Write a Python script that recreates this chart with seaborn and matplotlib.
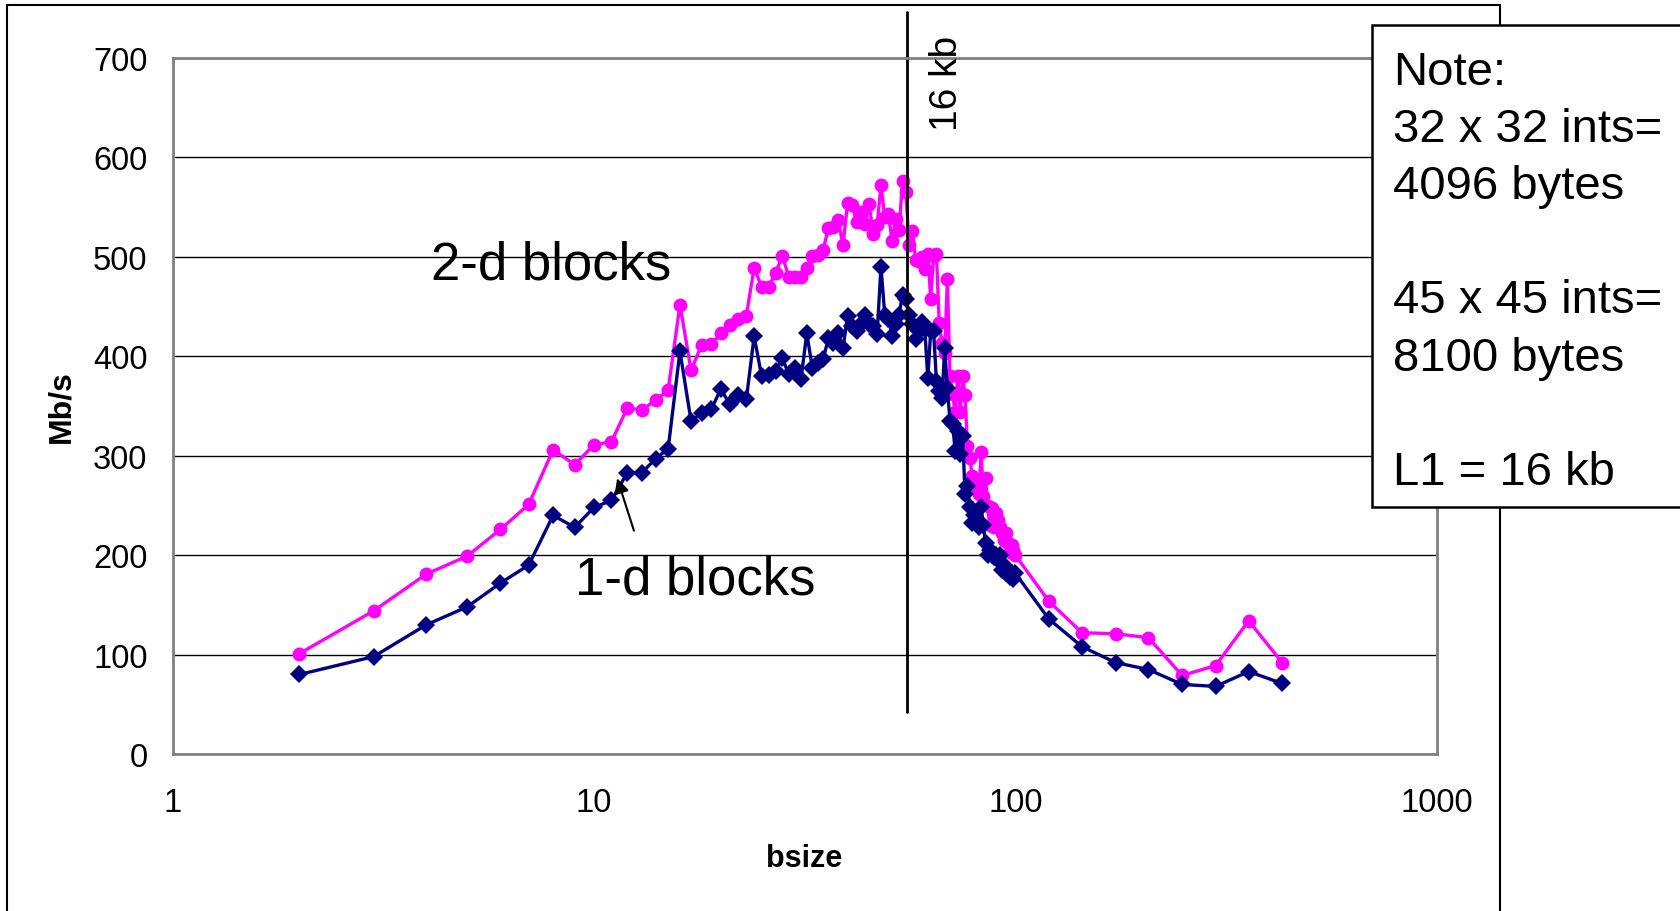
import matplotlib
matplotlib.use('Agg')
import matplotlib.pyplot as plt
from matplotlib.patches import Rectangle
import numpy as np
import pandas as pd
import seaborn as sns

sns.set_style("white")
plt.rcParams['font.family'] = ['Liberation Sans', 'DejaVu Sans']
plt.rcParams['text.color'] = 'black'
plt.rcParams['axes.labelcolor'] = 'black'
plt.rcParams['xtick.color'] = 'black'
plt.rcParams['ytick.color'] = 'black'

# block sizes (ints per side)
bsize = [2, 3, 4, 5, 6, 7, 8, 9, 10, 11,
         12, 13, 14, 15, 16, 17, 18, 19, 20, 21,
         22, 23, 24, 25, 26, 27, 28, 29, 30, 31,
         32, 33, 34, 35, 36, 37, 38, 39, 40, 41,
         42, 43, 44, 45, 46, 47, 48, 49, 50, 51,
         52, 53, 54, 55, 56, 57, 58, 59, 60, 61,
         62, 63, 64, 65, 66, 67, 68, 69, 70, 71,
         72, 73, 74, 75, 76, 77, 78, 79, 80, 81,
         82, 83, 84, 85, 86, 87, 88, 89, 90, 91,
         92, 93, 94, 95, 96, 97, 98, 99, 100,
         120, 144, 173, 207, 249, 299, 358, 430]

# 2-d blocks, Mb/s
mbs_2d = [101, 144, 181, 199, 226, 251, 306, 291, 311, 314,
          348, 346, 356, 366, 452, 386, 411, 412, 423, 431,
          438, 441, 489, 470, 470, 484, 501, 480, 480, 480,
          489, 501, 502, 507, 529, 530, 537, 512, 554, 552,
          535, 545, 533, 553, 523, 532, 572, 540, 543, 516,
          538, 527, 576, 565, 512, 526, 497, 496, 500, 488,
          503, 458, 501, 503, 433, 413, 403, 478, 380, 362,
          344, 380, 344, 380, 361, 310, 298, 280, 275, 268,
          262, 304, 260, 278, 249, 230, 247, 228, 242, 235,
          228, 222, 215, 222, 212, 203, 210, 205, 200,
          154, 122, 121, 117, 79, 89, 134, 92]

# 1-d blocks, Mb/s
mbs_1d = [80, 98, 130, 148, 172, 190, 240, 228, 248, 255,
          283, 283, 297, 307, 405, 335, 343, 347, 367, 352,
          361, 357, 420, 380, 381, 385, 398, 382, 388, 377,
          423, 388, 393, 397, 418, 413, 423, 408, 441, 430,
          425, 432, 442, 432, 430, 422, 490, 442, 438, 420,
          432, 442, 462, 458, 442, 432, 417, 425, 435, 427,
          378, 425, 425, 375, 365, 358, 408, 368, 335, 332,
          305, 325, 302, 320, 262, 270, 248, 232, 240, 235,
          228, 248, 230, 212, 200, 205, 200, 198, 200, 195,
          200, 185, 190, 182, 185, 178, 182, 176, 182,
          136, 108, 92, 85, 70, 68, 83, 71]

l1_bsize = 55.4
note_lines = ['Note:', '32 x 32 ints=', '4096 bytes', '',
              '45 x 45 ints=', '8100 bytes', '', 'L1 = 16 kb']

df = pd.DataFrame({'bsize': bsize, '2-d': mbs_2d, '1-d': mbs_1d})

fig = plt.figure(figsize=(16.81, 9.12), dpi=100)
ax = fig.add_axes([0.1027, 0.1721, 0.7519, 0.7632])

sns.lineplot(data=df, x='bsize', y='2-d', ax=ax, color='#FF00FF',
             marker='o', markersize=10, markeredgewidth=0, lw=2.4,
             estimator=None, sort=False)
sns.lineplot(data=df, x='bsize', y='1-d', ax=ax, color='#000080',
             marker='D', markersize=9, markeredgewidth=0, lw=2.4,
             estimator=None, sort=False)

ax.set_xscale('log')
ax.set_xlim(1, 1000)
ax.set_ylim(0, 700)
ax.set_xticks([1, 10, 100, 1000])
ax.set_xticklabels(['1', '10', '100', '1000'])
ax.xaxis.set_minor_locator(matplotlib.ticker.NullLocator())
ax.set_yticks(range(0, 701, 100))
ax.yaxis.grid(True, color='black', lw=1)
ax.set_axisbelow(True)
for s in ax.spines.values():
    s.set_color('#808080')
    s.set_linewidth(2)
    s.set_visible(True)
ax.tick_params(axis='both', direction='out', length=8, width=1,
               color='#404040', labelsize=23.5)
ax.tick_params(axis='x', pad=16)
ax.tick_params(axis='y', pad=10)

ax.set_xlabel('bsize', fontsize=22, fontweight='bold', labelpad=18)
ax.set_ylabel('Mb/s', fontsize=23, fontweight='bold', labelpad=12)

# L1 boundary line runs past the top of the plot area
ax.plot([l1_bsize, l1_bsize], [42, 746], color='black', lw=2, clip_on=False)
ax.text(69, 675, '16 kb', rotation=90, ha='center', va='center', fontsize=28)

ax.text(4.1, 492, '2-d blocks', ha='left', va='center', fontsize=38)
ax.text(9.0, 176, '1-d blocks', ha='left', va='center', fontsize=38)
ax.annotate('', xy=(11.3, 280), xytext=(12.5, 222),
            arrowprops=dict(arrowstyle='-|>', color='black', lw=1.5,
                            mutation_scale=22))

# chart frame and note box
fig.patches.append(Rectangle((0.0042, -0.02), 0.888, 1.0135,
                             transform=fig.transFigure, fill=False,
                             edgecolor='black', lw=1.5, zorder=1))
fig.patches.append(Rectangle((0.816, 0.443), 0.2, 0.5285,
                             transform=fig.transFigure, facecolor='white',
                             edgecolor='black', lw=1.8, zorder=2))
fig.text(0.8287, 0.944, '\n'.join(note_lines), ha='left', va='top',
         fontsize=34, linespacing=1.385, zorder=3)

plt.savefig('out.png', dpi=100)
